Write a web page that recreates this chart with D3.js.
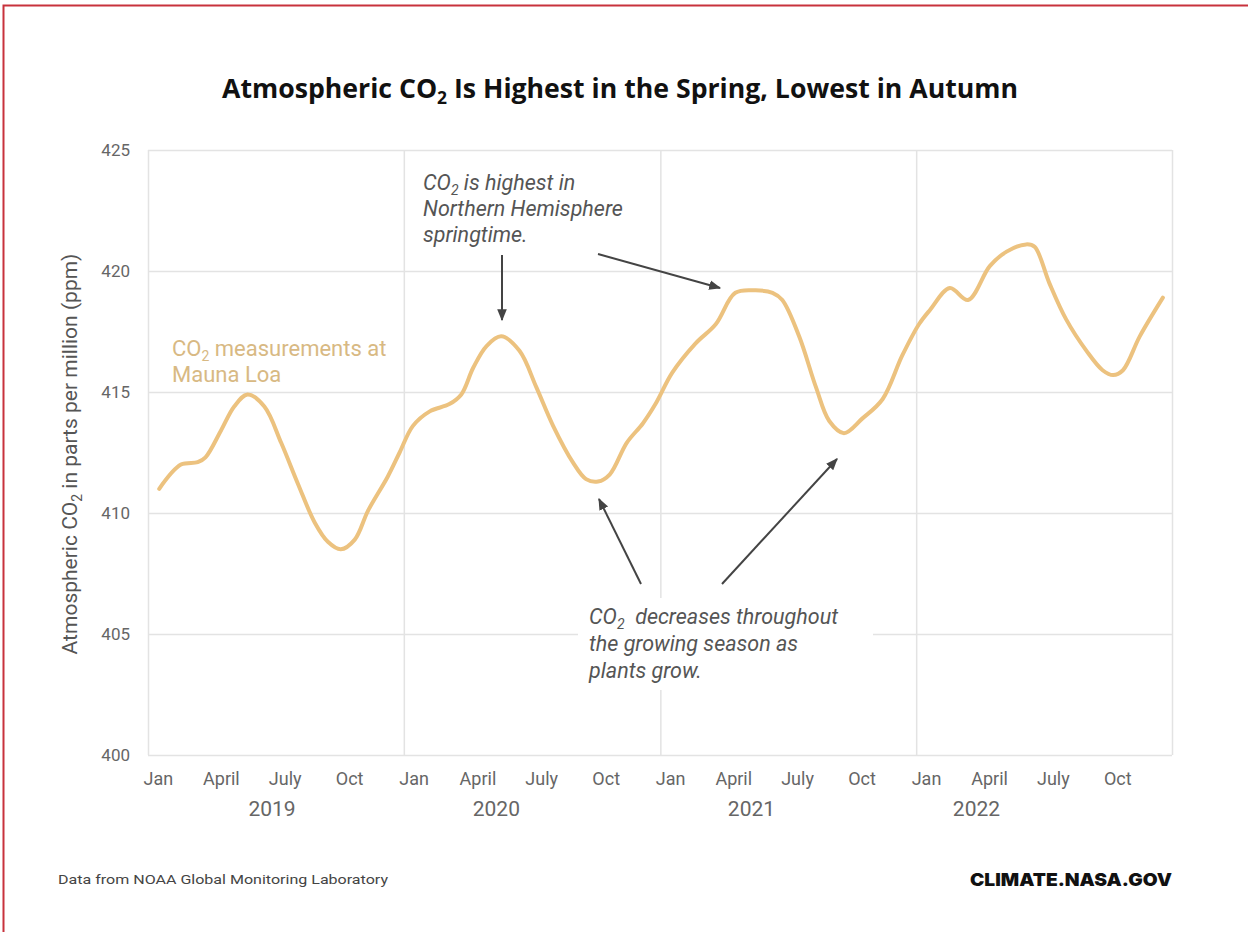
<!DOCTYPE html>
<html>
<head>
<meta charset="utf-8">
<script src="https://cdn.jsdelivr.net/npm/d3@7"></script>
<style>
    body { margin: 0; background: #fff; }
    svg { display: block; }
</style>
</head>
<body>
<div id="chart"></div>
<script>
const width = 1248;
const height = 932;

// Mauna Loa readings
const dates = [
    "2019-01-17", "2019-02-17", "2019-03-13", "2019-03-24", "2019-04-15", "2019-05-04", "2019-05-23",
    "2019-06-16", "2019-07-10", "2019-08-03", "2019-08-27", "2019-09-15", "2019-10-03", "2019-10-23",
    "2019-11-11", "2019-12-09", "2019-12-26", "2020-01-14", "2020-02-07", "2020-03-06", "2020-03-23",
    "2020-04-09", "2020-04-28", "2020-05-19", "2020-06-14", "2020-07-08", "2020-08-01", "2020-08-29",
    "2020-09-17", "2020-10-04", "2020-10-21", "2020-11-14", "2020-12-07", "2020-12-25", "2021-01-18",
    "2021-02-20", "2021-03-21", "2021-04-18", "2021-05-17", "2021-06-10", "2021-06-24", "2021-07-18",
    "2021-08-11", "2021-08-30", "2021-09-20", "2021-10-16", "2021-11-14", "2021-12-12", "2022-01-05",
    "2022-01-21", "2022-02-18", "2022-03-16", "2022-04-16", "2022-05-10", "2022-06-07", "2022-06-19",
    "2022-07-10", "2022-08-03", "2022-09-01", "2022-09-24", "2022-10-09", "2022-10-23", "2022-11-16",
    "2022-12-19"
];
const ppm = [
    411.0, 412.0, 412.1, 412.3, 413.4, 414.4, 414.9,
    414.4, 412.9, 411.2, 409.6, 408.8, 408.5, 408.9,
    410.1, 411.5, 412.5, 413.6, 414.2, 414.5, 414.9,
    416.0, 416.9, 417.3, 416.7, 415.2, 413.6, 412.1,
    411.4, 411.3, 411.6, 412.9, 413.7, 414.5, 415.8,
    417.0, 417.8, 419.1, 419.2, 419.1, 418.8, 417.3,
    415.2, 413.8, 413.3, 413.9, 414.7, 416.5, 417.8,
    418.4, 419.3, 418.8, 420.2, 420.8, 421.1, 421.0,
    419.5, 418.0, 416.7, 415.9, 415.7, 415.9, 417.3,
    418.9
];

const yTicks = [400, 405, 410, 415, 420, 425];
const yearStarts = ["2019-01-01", "2020-01-01", "2021-01-01", "2022-01-01", "2023-01-01"];
const monthTickDates = [
    "2019-01-15", "2019-04-15", "2019-07-15", "2019-10-15",
    "2020-01-15", "2020-04-15", "2020-07-15", "2020-10-15",
    "2021-01-15", "2021-04-15", "2021-07-15", "2021-10-15",
    "2022-01-15", "2022-04-15", "2022-07-15", "2022-10-15"
];
const monthNames = ["Jan", "April", "July", "Oct"];
const yearLabels = ["2019", "2020", "2021", "2022"];
const yearLabelDates = ["2019-06-27", "2020-05-12", "2021-05-11", "2022-03-28"];

const parse = d3.timeParse("%Y-%m-%d");
const series = dates.map((d, i) => ({ date: parse(d), value: ppm[i] }));

const plot = { left: 148, right: 1172, top: 150, bottom: 755 };

const x = d3.scaleTime()
    .domain([parse(yearStarts[0]), parse(yearStarts[yearStarts.length - 1])])
    .range([plot.left, plot.right]);
const y = d3.scaleLinear()
    .domain([400, 425])
    .range([plot.bottom, plot.top]);

const svg = d3.select("#chart").append("svg")
    .attr("width", width)
    .attr("height", height);

svg.append("defs").append("marker")
    .attr("id", "head")
    .attr("viewBox", "0 0 10 10")
    .attr("refX", 9)
    .attr("refY", 5)
    .attr("markerWidth", 6)
    .attr("markerHeight", 6)
    .attr("markerUnits", "strokeWidth")
    .attr("orient", "auto")
    .append("path")
    .attr("d", "M0,1 L10,5 L0,9 Z")
    .attr("fill", "#444");

// page border
svg.append("path")
    .attr("d", `M3.5,${height} V5.5 H${width}`)
    .attr("fill", "none")
    .attr("stroke", "#c8323c")
    .attr("stroke-width", 2);

//  GRID  ////////////////////////////////////////
const yGrid = svg.append("g")
    .attr("transform", `translate(${plot.left},0)`)
    .call(d3.axisLeft(y).tickValues(yTicks).tickSize(-(plot.right - plot.left)).tickPadding(18));
yGrid.select(".domain").remove();
yGrid.selectAll("line").attr("stroke", "#e3e3e3").attr("stroke-width", 1.5);
yGrid.selectAll("text")
    .attr("fill", "#666")
    .style("font", "17px Roboto, sans-serif");

const xGrid = svg.append("g")
    .attr("transform", `translate(0,${plot.bottom})`)
    .call(d3.axisBottom(x).tickValues(yearStarts.map(parse)).tickSize(-(plot.bottom - plot.top)).tickFormat(""));
xGrid.select(".domain").remove();
xGrid.selectAll("line").attr("stroke", "#e3e3e3").attr("stroke-width", 1.5);

//  X LABELS  ////////////////////////////////////
const xAxis = svg.append("g")
    .attr("transform", `translate(0,${plot.bottom})`)
    .call(d3.axisBottom(x)
        .tickValues(monthTickDates.map(parse))
        .tickSize(0)
        .tickPadding(17)
        .tickFormat((d, i) => monthNames[i % 4]));
xAxis.select(".domain").remove();
xAxis.selectAll("text")
    .attr("fill", "#666")
    .style("font", "18px Roboto, sans-serif");

svg.append("g")
    .selectAll("text")
    .data(yearLabels)
    .join("text")
    .attr("x", (d, i) => x(parse(yearLabelDates[i])))
    .attr("y", 816)
    .attr("text-anchor", "middle")
    .attr("fill", "#666")
    .style("font", "21px Roboto, sans-serif")
    .text(d => d);

// y title
const yTitle = svg.append("text")
    .attr("transform", "translate(77,454) rotate(-90)")
    .attr("text-anchor", "middle")
    .attr("fill", "#555")
    .style("font", "21px Roboto, sans-serif");
yTitle.append("tspan").text("Atmospheric CO");
yTitle.append("tspan").attr("dy", 5).style("font-size", "14px").text("2");
yTitle.append("tspan").attr("dy", -5).text(" in parts per million (ppm)");

//  WHITE BACKING FOR THE LOWER NOTE  ////////////
svg.append("rect")
    .attr("x", 578).attr("y", 598)
    .attr("width", 295).attr("height", 92)
    .attr("fill", "#fff");

//  LINE  ////////////////////////////////////////
const line = d3.line()
    .x(d => x(d.date))
    .y(d => y(d.value))
    .curve(d3.curveCatmullRom.alpha(0.5));

svg.append("path")
    .datum(series)
    .attr("d", line)
    .attr("fill", "none")
    .attr("stroke", "#ecc27f")
    .attr("stroke-width", 4)
    .attr("stroke-linejoin", "round")
    .attr("stroke-linecap", "round");

//  NOTES  ///////////////////////////////////////
function note(lines, px, py, opts) {
    const t = svg.append("text")
        .attr("x", px)
        .attr("fill", opts.color)
        .attr("xml:space", "preserve")
        .style("white-space", "pre")
        .style("font", opts.font);
    lines.forEach((ln, i) => {
        const row = t.append("tspan").attr("x", px).attr("y", py + i * opts.lh);
        ln.forEach(part => {
            if (part.sub) {
                row.append("tspan").attr("dy", 5).style("font-size", "14px").text(part.sub);
                row.append("tspan").attr("dy", -5).text(part.t || "");
            } else {
                row.append("tspan").text(part.t);
            }
        });
    });
}

note([
    [{ t: "CO" }, { sub: "2", t: " measurements at" }],
    [{ t: "Mauna Loa" }]
], 172, 356, { color: "#d8b983", font: "22px Roboto, sans-serif", lh: 26 });

note([
    [{ t: "CO" }, { sub: "2", t: " is highest in" }],
    [{ t: "Northern Hemisphere" }],
    [{ t: "springtime." }]
], 423, 190, { color: "#555", font: "italic 21.5px Roboto, sans-serif", lh: 26 });

note([
    [{ t: "CO" }, { sub: "2", t: "  decreases throughout" }],
    [{ t: "the growing season as" }],
    [{ t: "plants grow." }]
], 589, 624, { color: "#555", font: "italic 21.5px Roboto, sans-serif", lh: 27 });

const arrows = [
    [[502, 255], [502, 320]],
    [[598, 254], [720, 288]],
    [[641, 584], [599, 499]],
    [[722, 584], [837, 459]]
];
svg.append("g")
    .selectAll("line")
    .data(arrows)
    .join("line")
    .attr("x1", d => d[0][0]).attr("y1", d => d[0][1])
    .attr("x2", d => d[1][0]).attr("y2", d => d[1][1])
    .attr("stroke", "#444")
    .attr("stroke-width", 2)
    .attr("marker-end", "url(#head)");

//  TITLE + FOOTER  //////////////////////////////
const title = svg.append("text")
    .attr("x", 620)
    .attr("y", 98)
    .attr("text-anchor", "middle")
    .attr("fill", "#111")
    .style("font", "bold 26px 'Liberation Sans Narrow', 'Open Sans', sans-serif");
title.append("tspan").text("Atmospheric CO");
title.append("tspan").attr("dy", 6).style("font-size", "17px").text("2");
title.append("tspan").attr("dy", -6).text(" Is Highest in the Spring, Lowest in Autumn");
const tw = title.node().getComputedTextLength();
if (tw > 0) title.attr("textLength", 796).attr("lengthAdjust", "spacingAndGlyphs");

const source = svg.append("text")
    .attr("x", 58)
    .attr("y", 884)
    .attr("fill", "#444")
    .style("font", "13px 'Liberation Sans Narrow', Roboto, sans-serif")
    .text("Data from NOAA Global Monitoring Laboratory");
source.attr("textLength", 330).attr("lengthAdjust", "spacingAndGlyphs");

svg.append("text")
    .attr("x", 1172)
    .attr("y", 886)
    .attr("text-anchor", "end")
    .attr("fill", "#111")
    .style("font", "900 18px Inter, 'Open Sans', sans-serif")
    .attr("textLength", 202)
    .attr("lengthAdjust", "spacingAndGlyphs")
    .text("CLIMATE.NASA.GOV");
</script>
</body>
</html>
